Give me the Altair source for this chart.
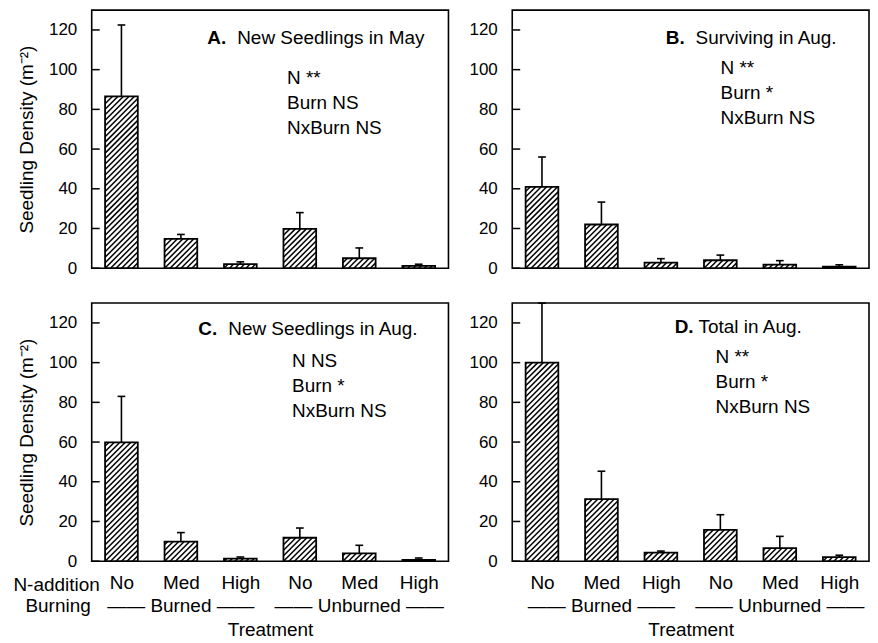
import json
import numpy as np
import pandas as pd
import altair as alt

# ---------------- data ----------------
n_levels = ["No", "Med", "High", "No", "Med", "High"]
burn_groups = ["Burned", "Unburned"]
burn_centers = [2, 5]

mean_a = [86.5, 14.8, 2.0, 19.8, 5.0, 1.2]
se_a = [36.0, 2.2, 1.2, 8.2, 5.2, 0.8]
mean_b = [41.0, 22.0, 2.8, 4.0, 1.8, 0.8]
se_b = [15.0, 11.3, 2.0, 2.6, 2.0, 0.9]
mean_c = [59.8, 9.8, 1.3, 11.8, 3.9, 0.7]
se_c = [23.2, 4.6, 0.8, 4.9, 4.1, 0.9]
mean_d = [100.0, 31.3, 4.3, 15.8, 6.6, 2.0]
se_d = [30.0, 14.0, 0.8, 7.6, 5.9, 1.0]

letters = ["A.", "B.", "C.", "D."]
title_rest = ["New Seedlings in May", "Surviving in Aug.", "New Seedlings in Aug.", "Total in Aug."]
stats_a = ["N **", "Burn NS", "NxBurn NS"]
stats_b = ["N **", "Burn *", "NxBurn NS"]
stats_c = ["N NS", "Burn *", "NxBurn NS"]
stats_d = ["N **", "Burn *", "NxBurn NS"]

y_ticks = [0, 20, 40, 60, 80, 100, 120]

# ---------------- layout / style ----------------
W, H = 358, 259
YMAX = 130
BAR_HALF = 0.275
CAP_HALF = 0.065
HATCH_STEP = 5.5
FONT = "Liberation Sans"

xscale = alt.Scale(domain=[0.5, 6.5], nice=False, zero=False)
yscale = alt.Scale(domain=[0, YMAX], nice=False)


def hatch_segments(means):
    px_x = W / 6.0
    px_y = H / YMAX
    rows = []
    for i, m in enumerate(means):
        w = 2 * BAR_HALF * px_x
        h = m * px_y
        left = (i + 1) - BAR_HALF
        k_min = int(np.floor(-w / HATCH_STEP))
        k_max = int(np.ceil(h / HATCH_STEP))
        for k in range(k_min, k_max + 1):
            c = k * HATCH_STEP
            u0 = max(0.0, -c)
            u1 = min(w, h - c)
            if u1 - u0 < 0.4:
                continue
            rows.append(dict(hx=left + u0 / px_x, hy=(u0 + c) / px_y,
                             hx2=left + u1 / px_x, hy2=(u1 + c) / px_y))
    return pd.DataFrame(rows)


def panel(means, ses, idx, stats, bottom, left, tpos, spos):
    df = pd.DataFrame({
        "x": list(range(1, 7)),
        "mean": means,
        "se": ses,
    })
    df["top"] = df["mean"] + df["se"]

    if bottom:
        x_axis = alt.Axis(values=list(range(1, 7)),
                          labelExpr=json.dumps(n_levels) + "[datum.value - 1]",
                          tickSize=0, domain=False, grid=False, labelFontSize=19,
                          labelPadding=12, labelOverlap=False, labelColor="black",
                          title="Treatment", titleFontSize=19, titleFontWeight="normal",
                          titleColor="black", titlePadding=29)
    else:
        x_axis = None
    y_axis = alt.Axis(values=y_ticks, tickSize=0, domain=False, grid=False,
                      labelFontSize=17, labelPadding=15, labelColor="black",
                      title="Seedling Density (m⁻²)" if left else None,
                      titleFontSize=19, titleFontWeight="normal", titleColor="black",
                      titlePadding=12)

    def X(f):
        return alt.X(f, scale=xscale, axis=x_axis)

    def Y(f):
        return alt.Y(f, scale=yscale, axis=y_axis)

    base = alt.Chart(df).transform_calculate(
        xl="datum.x - %f" % BAR_HALF, xr="datum.x + %f" % BAR_HALF,
        cl="datum.x - %f" % CAP_HALF, cr="datum.x + %f" % CAP_HALF)

    fill = base.mark_rect(fill="white").encode(x=X("xl:Q"), x2="xr:Q", y=Y("mean:Q"), y2=alt.datum(0))
    hatch = alt.Chart(hatch_segments(means)).mark_rule(color="black", strokeWidth=1.5).encode(
        x=X("hx:Q"), x2="hx2:Q", y=Y("hy:Q"), y2="hy2:Q")
    outline = base.mark_rect(fillOpacity=0, stroke="black", strokeWidth=1.8).encode(
        x=X("xl:Q"), x2="xr:Q", y=Y("mean:Q"), y2=alt.datum(0))
    err = base.mark_rule(color="black", strokeWidth=1.6).encode(x=X("x:Q"), y=Y("mean:Q"), y2="top:Q")
    cap = base.mark_rule(color="black", strokeWidth=1.6).encode(x=X("cl:Q"), x2="cr:Q", y=Y("top:Q"))
    ticks = alt.Chart(pd.DataFrame({"v": y_ticks})).mark_rule(color="black", strokeWidth=1.5).encode(
        x=alt.value(0), x2=alt.value(8), y=Y("v:Q"))

    layers = [fill, hatch, outline, err, cap, ticks]

    tx, ty, gap = tpos
    layers.append(alt.Chart(pd.DataFrame({"t": [letters[idx]]})).mark_text(
        align="left", baseline="middle", fontSize=19, fontWeight="bold", color="black").encode(
        x=alt.value(tx), y=alt.value(ty), text="t:N"))
    layers.append(alt.Chart(pd.DataFrame({"t": [title_rest[idx]]})).mark_text(
        align="left", baseline="middle", fontSize=19, color="black").encode(
        x=alt.value(tx + gap), y=alt.value(ty), text="t:N"))
    sx, sy = spos
    for j, s in enumerate(stats):
        layers.append(alt.Chart(pd.DataFrame({"t": [s]})).mark_text(
            align="left", baseline="middle", fontSize=19, color="black").encode(
            x=alt.value(sx), y=alt.value(sy + 25 * j), text="t:N"))

    if bottom:
        gdf = pd.DataFrame({"g": ["——  " + g + " ——" for g in burn_groups], "gx": burn_centers})
        layers.append(alt.Chart(gdf).mark_text(baseline="middle", fontSize=19, color="black").encode(
            x=X("gx:Q"), y=alt.value(H + 45), text="g:N"))
        if left:
            layers.append(alt.Chart(pd.DataFrame({"t": ["N-addition"]})).mark_text(
                align="right", baseline="middle", fontSize=19, color="black").encode(
                x=alt.value(8), y=alt.value(H + 24), text="t:N"))
            layers.append(alt.Chart(pd.DataFrame({"t": ["Burning"]})).mark_text(
                align="right", baseline="middle", fontSize=19, color="black").encode(
                x=alt.value(-1), y=alt.value(H + 45), text="t:N"))

    return alt.layer(*layers).properties(width=W, height=H)


pa = panel(mean_a, se_a, 0, stats_a, False, True, (116, 28.5, 30), (196, 68.5))
pb = panel(mean_b, se_b, 1, stats_b, False, False, (154, 28.5, 30), (209, 58))
pc = panel(mean_c, se_c, 2, stats_c, True, True, (107, 26.5, 30), (201, 58))
pd_ = panel(mean_d, se_d, 3, stats_d, True, False, (163, 24, 24), (204, 54))

top = alt.hconcat(pa, pb, spacing=18)
bottom = alt.hconcat(pc, pd_, spacing=18)
chart = alt.vconcat(top, bottom, spacing=24).properties(
    padding={"left": 4, "top": 0, "right": 0, "bottom": 0}
).configure(font=FONT).configure_view(stroke="black", strokeWidth=1.6)

chart.save("out.html", embed_options={"renderer": "svg", "actions": False})
